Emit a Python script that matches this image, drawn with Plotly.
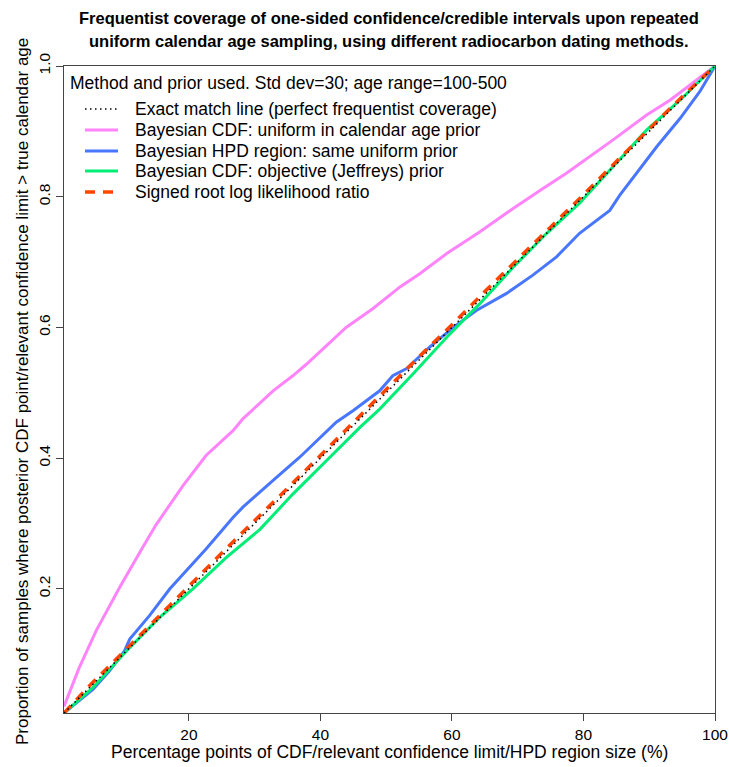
import plotly.graph_objects as go

# ---- data ----
exact_x = [1, 100]
exact_y = [0.01, 1.0]

pink_x = [1, 3.3, 5.9, 9.45, 13.0, 15.0, 19.1, 22.6, 26.7, 28.2, 32.8, 35.8, 37.9, 43.9, 48.0,
          52.1, 55.1, 59.2, 64.2, 69.3, 73.9, 77.4, 84.5, 89.6, 93.2, 100]
pink_y = [0.02, 0.079, 0.136, 0.202, 0.264, 0.298, 0.358, 0.404, 0.442, 0.46, 0.503, 0.526, 0.544,
          0.60, 0.629, 0.662, 0.682, 0.713, 0.746, 0.782, 0.813, 0.836, 0.887, 0.925, 0.948, 1.0]

blue_x = [1, 5.4, 7.9, 10.2, 11.0, 14.0, 17.1, 20.6, 22.6, 26.7, 28.2, 32.8, 36.8, 42.4, 45.0,
          49.0, 51.0, 53.1, 56.6, 60.2, 63.7, 68.3, 72.3, 75.9, 79.4, 84.0, 85.5, 91.1, 94.7, 97.7, 100]
blue_y = [0.01, 0.046, 0.074, 0.105, 0.123, 0.159, 0.2, 0.238, 0.261, 0.309, 0.325, 0.366, 0.401,
          0.455, 0.473, 0.503, 0.526, 0.537, 0.57, 0.60, 0.626, 0.652, 0.68, 0.708, 0.744, 0.779,
          0.802, 0.876, 0.92, 0.961, 1.0]

green_x = [1, 5.4, 10.5, 15.5, 20.6, 25.7, 30.8, 35.8, 40.9, 46.0, 49.0, 52.1, 54.1, 59.2, 64.2,
           69.3, 74.4, 79.4, 84.5, 89.6, 94.7, 100]
green_y = [0.01, 0.049, 0.105, 0.156, 0.2, 0.248, 0.291, 0.345, 0.396, 0.447, 0.475, 0.508, 0.529,
           0.585, 0.636, 0.692, 0.744, 0.79, 0.846, 0.902, 0.948, 1.0]

red_x = [1, 5, 10, 15, 20, 25, 30, 35, 40, 45, 50, 55, 60, 65, 70, 75, 80, 85, 90, 95, 100]
red_y = [0.01, 0.053, 0.103, 0.153, 0.204, 0.255, 0.304, 0.354, 0.404, 0.455, 0.505, 0.555,
         0.604, 0.655, 0.704, 0.754, 0.803, 0.854, 0.903, 0.953, 1.0]

x_ticks = [20, 40, 60, 80, 100]
y_ticks = [0.2, 0.4, 0.6, 0.8, 1.0]
y_ticktext = ["0.2", "0.4", "0.6", "0.8", "1.0"]

names = ["Exact match line (perfect frequentist coverage)",
         "Bayesian CDF: uniform in calendar age prior",
         "Bayesian HPD region: same uniform prior",
         "Bayesian CDF: objective (Jeffreys) prior",
         "Signed root log likelihood ratio"]

FONT = "Liberation Sans, Arial, sans-serif"

# style per legend entry (same order as names)
styles = [dict(color="black", width=1.5, dash="1.5px,3.5px"),
          dict(color="#FF83FA", width=3),
          dict(color="#4876FF", width=3),
          dict(color="#00EE76", width=3),
          dict(color="#FF4500", width=3.5, dash="10px,8px")]

fig = go.Figure()
fig.add_trace(go.Scatter(x=pink_x, y=pink_y, mode="lines", name=names[1], line=styles[1]))
fig.add_trace(go.Scatter(x=blue_x, y=blue_y, mode="lines", name=names[2], line=styles[2]))
fig.add_trace(go.Scatter(x=green_x, y=green_y, mode="lines", name=names[3], line=styles[3]))
fig.add_trace(go.Scatter(x=red_x, y=red_y, mode="lines", name=names[4], line=styles[4]))
fig.add_trace(go.Scatter(x=exact_x, y=exact_y, mode="lines", name=names[0], line=styles[0]))

W, H = 729, 767
L, R, T, B = 64, 14, 66, 54
pw, ph = W - L - R, H - T - B

def px2paper_x(px):
    return (px - L) / pw

def px2paper_y(py):
    return (H - B - py) / ph

fig.update_layout(
    width=W, height=H,
    margin=dict(l=L, r=R, t=T, b=B, autoexpand=False),
    paper_bgcolor="white", plot_bgcolor="white",
    font=dict(family=FONT, size=16, color="black"),
    showlegend=False,
    xaxis=dict(range=[1, 100], tickvals=x_ticks, ticks="outside", ticklen=7, automargin=False,
               tickcolor="#444", showline=True, linecolor="#444", linewidth=1, mirror=True,
               showgrid=False, zeroline=False, tickfont=dict(size=15.5)),
    yaxis=dict(range=[0.01, 1.0], tickvals=y_ticks, ticktext=y_ticktext, ticks="outside",
               ticklen=7, tickcolor="#444", tickangle=-90, showline=True, linecolor="#444",
               automargin=False, linewidth=1, mirror=True, showgrid=False, zeroline=False,
               tickfont=dict(size=15.5)),
)

ann = [
    dict(text="<b>Frequentist coverage of one-sided confidence/credible intervals upon repeated</b>",
         x=px2paper_x(389), y=px2paper_y(18), font=dict(size=16.5)),
    dict(text="<b>uniform calendar age sampling, using different radiocarbon dating methods.</b>",
         x=px2paper_x(389), y=px2paper_y(41), font=dict(size=16.5)),
    dict(text="Percentage points of CDF/relevant confidence limit/HPD region size (%)",
         x=px2paper_x(389), y=px2paper_y(752), font=dict(size=17.5)),
    dict(text="Proportion of samples where posterior CDF point/relevant confidence limit > true calendar age",
         x=px2paper_x(22), y=px2paper_y(392), textangle=-90, font=dict(size=17)),
    dict(text="Method and prior used. Std dev=30; age range=100-500",
         x=px2paper_x(68), y=px2paper_y(83), xanchor="left", font=dict(size=17.5)),
]
for a in ann:
    a.setdefault("xanchor", "center")
    fig.add_annotation(xref="paper", yref="paper", yanchor="middle", showarrow=False, **a)

# manual legend (R-style, no box)
legend_rows = [109, 130, 151, 171, 192]
for name, st, ry in zip(names, styles, legend_rows):
    fig.add_shape(type="line", xref="paper", yref="paper",
                  x0=px2paper_x(85), x1=px2paper_x(118),
                  y0=px2paper_y(ry), y1=px2paper_y(ry), line=st)
    fig.add_annotation(xref="paper", yref="paper", x=px2paper_x(133), y=px2paper_y(ry),
                       xanchor="left", yanchor="middle", showarrow=False, text=name,
                       font=dict(size=17.5))

fig.write_html("out.html", config={"displayModeBar": False},
               post_script="document.body.style.margin='0';")
